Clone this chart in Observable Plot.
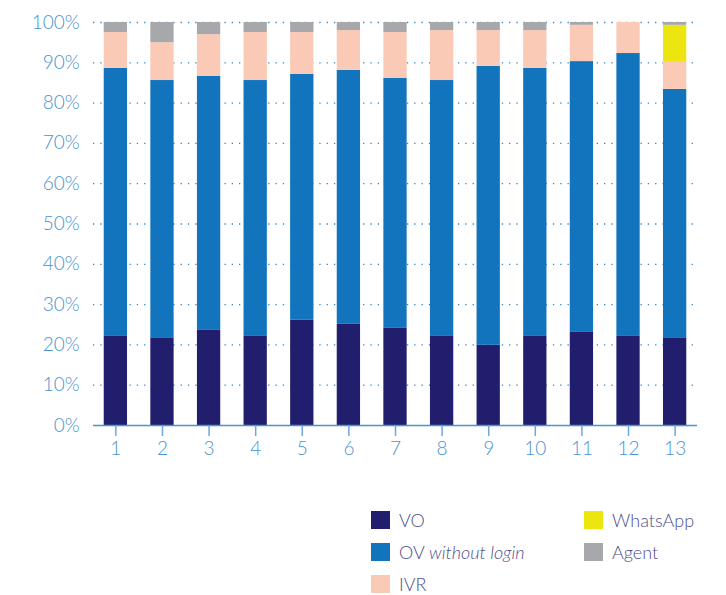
<!DOCTYPE html>
<html>
<head>
<meta charset="utf-8">
<script src="https://cdn.jsdelivr.net/npm/d3@7"></script>
<script src="https://cdn.jsdelivr.net/npm/@observablehq/plot@0.6"></script>
<style>
  html, body { margin: 0; padding: 0; background: #fff; }
  #wrap { position: relative; width: 726px; height: 595px; font-family: Lato, "Open Sans", sans-serif; }
  #legend { position: absolute; left: 0; top: 470px; width: 726px; height: 125px; }
  .item { position: absolute; display: flex; align-items: center; height: 19px; font-size: 18px; font-weight: 300; color: #4f4e8c; white-space: nowrap; }
  .sw { width: 19px; height: 18px; margin-right: 9px; flex: none; }
</style>
</head>
<body>
<div id="wrap">
  <div id="chart"></div>
  <div id="legend"></div>
</div>
<script>
const categories = ["1","2","3","4","5","6","7","8","9","10","11","12","13"];
const seriesNames = ["VO","OV without login","IVR","WhatsApp","Agent"];
const seriesColors = ["#221e6e","#1174bc","#fbcab6","#ede50f","#a7a8ab"];
const voValues       = [22.1, 21.6, 23.6, 22.1, 26.1, 25.1, 24.1, 22.1, 19.9, 22.1, 23.1, 22.1, 21.6];
const ovValues       = [66.5, 64.0, 63.0, 63.5, 61.0, 63.0, 62.0, 63.5, 69.2, 66.5, 67.2, 70.2, 61.8];
const ivrValues      = [ 8.9,  9.4, 10.4, 11.9, 10.4,  9.9, 11.4, 12.4,  8.9,  9.4,  9.0,  7.7,  6.7];
const whatsappValues = [ 0,    0,    0,    0,    0,    0,    0,    0,    0,    0,    0,    0,    9.2];
const agentValues    = [ 2.5,  5.0,  3.0,  2.5,  2.5,  2.0,  2.5,  2.0,  2.0,  2.0,  0.7,  0,    0.7];
const yTicks = [0,10,20,30,40,50,60,70,80,90,100];

const seriesValues = [voValues, ovValues, ivrValues, whatsappValues, agentValues];
const data = seriesNames.flatMap((s, i) =>
  categories.map((c, j) => ({cat: c, series: s, value: seriesValues[i][j]})));

const blue = "#4a93d0";
const chart = Plot.plot({
  width: 726,
  height: 470,
  marginLeft: 93,
  marginRight: 29,
  marginTop: 22,
  marginBottom: 45,
  style: {fontFamily: "Lato, 'Open Sans', sans-serif", background: "#fff"},
  x: {domain: categories, paddingInner: 0.5, paddingOuter: 0.23, round: false, label: null},
  y: {domain: [0, 100], label: null},
  color: {domain: seriesNames, range: seriesColors},
  marks: [
    Plot.gridY(yTicks.filter(d => d > 0), {stroke: "#2f86cc", strokeOpacity: 1, strokeWidth: 1.3, strokeDasharray: "1.3,6"}),
    Plot.barY(data, {x: "cat", y: "value", fill: "series"}),
    Plot.ruleY([0], {stroke: blue, strokeWidth: 1.6}),
    Plot.axisX({tickSize: 11, tickPadding: 5, stroke: "#6aa9dc", strokeWidth: 1.5, fill: blue, fontSize: 19, fontWeight: 300}),
    Plot.axisY(yTicks, {tickSize: 0, tickPadding: 14, tickFormat: d => d + "%", fill: blue, fontSize: 19, fontWeight: 300})
  ]
});
document.getElementById("chart").appendChild(chart);

const legendPos = [
  {x: 371, y: 40}, {x: 371, y: 72}, {x: 371, y: 104},
  {x: 584, y: 40}, {x: 584, y: 72}
];
const legendLabels = ["VO", "OV <i>without login</i>", "IVR", "WhatsApp", "Agent"];
const legend = document.getElementById("legend");
seriesNames.forEach((s, i) => {
  const it = document.createElement("div");
  it.className = "item";
  it.style.left = legendPos[i].x + "px";
  it.style.top = legendPos[i].y + "px";
  it.innerHTML = `<span class="sw" style="background:${seriesColors[i]}"></span><span>${legendLabels[i]}</span>`;
  legend.appendChild(it);
});
</script>
</body>
</html>
